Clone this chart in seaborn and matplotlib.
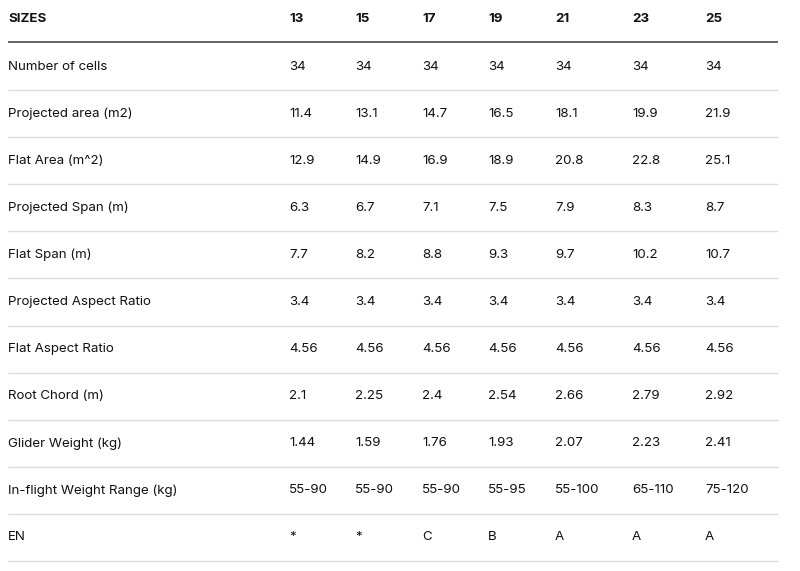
import pandas as pd
import matplotlib.pyplot as plt
import seaborn as sns

sizes = ["13", "15", "17", "19", "21", "23", "25"]

row_labels = [
    "Number of cells",
    "Projected area (m2)",
    "Flat Area (m^2)",
    "Projected Span (m)",
    "Flat Span (m)",
    "Projected Aspect Ratio",
    "Flat Aspect Ratio",
    "Root Chord (m)",
    "Glider Weight (kg)",
    "In-flight Weight Range (kg)",
    "EN",
]

number_of_cells = ["34", "34", "34", "34", "34", "34", "34"]
projected_area = ["11.4", "13.1", "14.7", "16.5", "18.1", "19.9", "21.9"]
flat_area = ["12.9", "14.9", "16.9", "18.9", "20.8", "22.8", "25.1"]
projected_span = ["6.3", "6.7", "7.1", "7.5", "7.9", "8.3", "8.7"]
flat_span = ["7.7", "8.2", "8.8", "9.3", "9.7", "10.2", "10.7"]
projected_ar = ["3.4", "3.4", "3.4", "3.4", "3.4", "3.4", "3.4"]
flat_ar = ["4.56", "4.56", "4.56", "4.56", "4.56", "4.56", "4.56"]
root_chord = ["2.1", "2.25", "2.4", "2.54", "2.66", "2.79", "2.92"]
glider_weight = ["1.44", "1.59", "1.76", "1.93", "2.07", "2.23", "2.41"]
weight_range = ["55-90", "55-90", "55-90", "55-95", "55-100", "65-110", "75-120"]
en_class = ["*", "*", "C", "B", "A", "A", "A"]

df = pd.DataFrame(
    [number_of_cells, projected_area, flat_area, projected_span, flat_span,
     projected_ar, flat_ar, root_chord, glider_weight, weight_range, en_class],
    index=row_labels, columns=sizes,
)

sns.set_theme(style="white")
plt.rcParams["font.family"] = ["Inter", "DejaVu Sans"]

fig = plt.figure(figsize=(8, 5.71), dpi=100)
ax = fig.add_axes([0, 0, 1, 1])
ax.set_xlim(0, 800)
ax.set_ylim(571, 0)
ax.axis("off")

# column left edges (px) - html table auto layout, last columns a bit wider
label_x = 8
col_x = [289, 355, 422, 488, 555, 632, 705]
head_y, row_y0, row_dy = 19, 66.5, 47.1
fs = 9.6

ax.text(label_x, head_y, "SIZES", fontsize=fs, fontweight="bold", va="center", ha="left", color="#111111")
for x, s in zip(col_x, df.columns):
    ax.text(x, head_y, s, fontsize=fs, fontweight="bold", va="center", ha="left", color="#111111")
ax.hlines(42, 8, 778, color="#5a5a5a", lw=1.3)

for i, (name, row) in enumerate(df.iterrows()):
    y = row_y0 + i * row_dy
    ax.text(label_x, y, name, fontsize=fs, va="center", ha="left", color="#111111")
    for x, v in zip(col_x, row):
        ax.text(x, y, v, fontsize=fs, va="center", ha="left", color="#111111")
    ax.hlines(y + row_dy / 2, 8, 778, color="#dcdcdc", lw=1.0)

fig.savefig("out.png", dpi=100, facecolor="white")
